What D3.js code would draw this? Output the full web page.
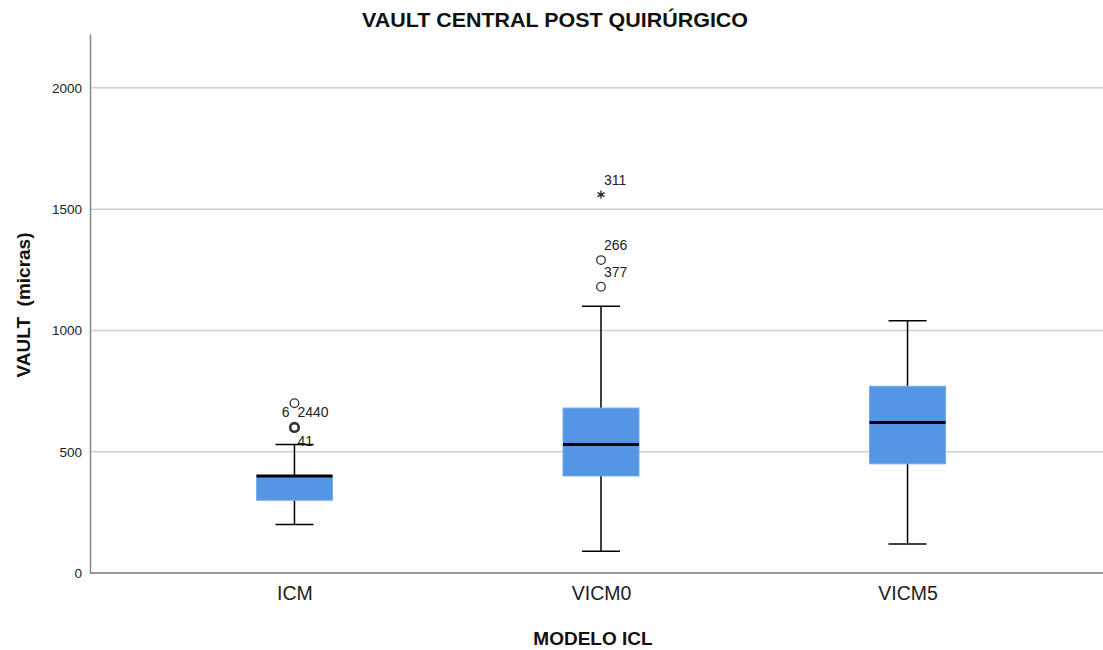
<!DOCTYPE html>
<html>
<head>
<meta charset="utf-8">
<script src="https://cdn.jsdelivr.net/npm/d3@7"></script>
<style>
  html, body { margin: 0; padding: 0; background: #fff; }
  svg { display: block; font-family: "Liberation Sans", Arial, sans-serif; }
</style>
</head>
<body>
<svg id="chart" width="1103" height="650"></svg>
<script>
// Groups (ICL model) and their five-number summaries, in microns
const categories = ["ICM", "VICM0", "VICM5"];
const whiskerLow = [200, 90, 120];
const q1 = [300, 400, 450];
const median = [400, 530, 620];
const q3 = [400, 680, 770];
const whiskerHigh = [530, 1100, 1040];

// Points beyond the whiskers: kind "o" = outlier, "*" = extreme
const outlierGroup = ["ICM", "ICM", "VICM0", "VICM0", "VICM0"];
const outlierValue = [700, 600, 1180, 1290, 1560];
const outlierKind = ["o", "o", "o", "o", "*"];

// Case labels printed next to the outliers
const labelGroup = ["ICM", "ICM", "ICM", "VICM0", "VICM0", "VICM0"];
const labelValue = [600, 600, 600, 1560, 1290, 1180];
const labelText = ["6", "2440", "41", "311", "266", "377"];
const labelPlace = ["above-left", "above", "below", "above", "above", "above"];

const yTicks = [0, 500, 1000, 1500, 2000];
const yMax = 2222;

const svg = d3.select("#chart");
const W = 1103, H = 650;
const m = { left: 90, right: 0, top: 34, bottom: 77 };

const y = d3.scaleLinear().domain([0, yMax]).range([H - m.bottom, m.top]);
const x = d3.scalePoint().domain(categories).range([m.left, 1112]).padding(0.667);
const boxW = 76, capW = 38;

// Horizontal gridlines
svg.append("g")
  .selectAll("line")
  .data(yTicks.filter(d => d > 0))
  .join("line")
  .attr("x1", m.left).attr("x2", W)
  .attr("y1", d => y(d)).attr("y2", d => y(d))
  .attr("stroke", "#d0d0d0").attr("stroke-width", 1.5);

// Y axis
const yAxis = svg.append("g")
  .attr("transform", `translate(${m.left},0)`)
  .call(d3.axisLeft(y).tickValues(yTicks).tickSize(0).tickPadding(8).tickFormat(d3.format("d")));
yAxis.select(".domain").attr("stroke", "#888").attr("stroke-width", 1.5);
yAxis.selectAll("text").attr("font-size", 13.5).attr("fill", "#222")
  .attr("font-family", "Liberation Sans, Arial, sans-serif");

// X axis
const xAxis = svg.append("g")
  .attr("transform", `translate(0,${y(0)})`)
  .call(d3.axisBottom(x).tickSize(0).tickPadding(13));
xAxis.select(".domain").attr("d", `M${m.left},0H${W}`).attr("stroke", "#777").attr("stroke-width", 1.5);
xAxis.selectAll("text").attr("font-size", 19.5).attr("fill", "#222")
  .attr("font-family", "Liberation Sans, Arial, sans-serif");

// Boxes
const rows = categories.map((c, i) => ({
  c, lo: whiskerLow[i], q1: q1[i], med: median[i], q3: q3[i], hi: whiskerHigh[i]
}));
const g = svg.append("g").selectAll("g").data(rows).join("g");

g.append("line")
  .attr("x1", d => x(d.c)).attr("x2", d => x(d.c))
  .attr("y1", d => y(d.lo)).attr("y2", d => y(d.hi))
  .attr("stroke", "#000").attr("stroke-width", 1.5);
g.append("line")
  .attr("x1", d => x(d.c) - capW / 2).attr("x2", d => x(d.c) + capW / 2)
  .attr("y1", d => y(d.lo)).attr("y2", d => y(d.lo))
  .attr("stroke", "#000").attr("stroke-width", 1.5);
g.append("line")
  .attr("x1", d => x(d.c) - capW / 2).attr("x2", d => x(d.c) + capW / 2)
  .attr("y1", d => y(d.hi)).attr("y2", d => y(d.hi))
  .attr("stroke", "#000").attr("stroke-width", 1.5);
g.append("rect")
  .attr("x", d => x(d.c) - boxW / 2).attr("width", boxW)
  .attr("y", d => y(d.q3)).attr("height", d => y(d.q1) - y(d.q3))
  .attr("fill", "#5495e6").attr("stroke", "#79aaec").attr("stroke-width", 1);
g.append("line")
  .attr("x1", d => x(d.c) - boxW / 2).attr("x2", d => x(d.c) + boxW / 2)
  .attr("y1", d => y(d.med)).attr("y2", d => y(d.med))
  .attr("stroke", "#000").attr("stroke-width", 3);

// Outliers and extremes
const outs = outlierGroup.map((c, i) => ({ c, v: outlierValue[i], k: outlierKind[i] }));
svg.append("g").selectAll("circle")
  .data(outs.filter(d => d.k === "o"))
  .join("circle")
  .attr("cx", d => x(d.c)).attr("cy", d => y(d.v)).attr("r", 4.3)
  .attr("fill", "none").attr("stroke", "#333")
  .attr("stroke-width", d => d.c === "ICM" && d.v === 600 ? 2.6 : 1.3);
svg.append("g").selectAll("path")
  .data(outs.filter(d => d.k === "*"))
  .join("path")
  .attr("transform", d => `translate(${x(d.c)},${y(d.v)})`)
  .attr("d", d3.symbol(d3.symbolAsterisk, 45))
  .attr("stroke", "#222").attr("stroke-width", 1.3).attr("fill", "none");

// Case number labels
svg.append("g").selectAll("text")
  .data(labelText.map((t, i) => ({ t, c: labelGroup[i], v: labelValue[i], p: labelPlace[i] })))
  .join("text")
  .attr("x", d => d.p === "above-left" ? x(d.c) - 5 : x(d.c) + 3)
  .attr("y", d => d.p === "below" ? y(d.v) + 19 : y(d.v) - 10)
  .attr("text-anchor", d => d.p === "above-left" ? "end" : "start")
  .attr("font-size", 14).attr("fill", "#222")
  .text(d => d.t);

// Titles
svg.append("text")
  .attr("x", 555).attr("y", 27).attr("text-anchor", "middle")
  .attr("font-size", 20).attr("font-weight", "bold").attr("fill", "#111")
  .attr("textLength", 386).attr("lengthAdjust", "spacingAndGlyphs")
  .text("VAULT CENTRAL POST QUIRÚRGICO");
svg.append("text")
  .attr("x", 593).attr("y", 645).attr("text-anchor", "middle")
  .attr("font-size", 19).attr("font-weight", "bold").attr("fill", "#111")
  .text("MODELO ICL");
svg.append("text")
  .attr("transform", "translate(30,305) rotate(-90)")
  .attr("text-anchor", "middle")
  .attr("font-size", 19).attr("font-weight", "bold").attr("fill", "#111")
  .style("white-space", "pre")
  .text("VAULT  (micras)");
</script>
</body>
</html>
